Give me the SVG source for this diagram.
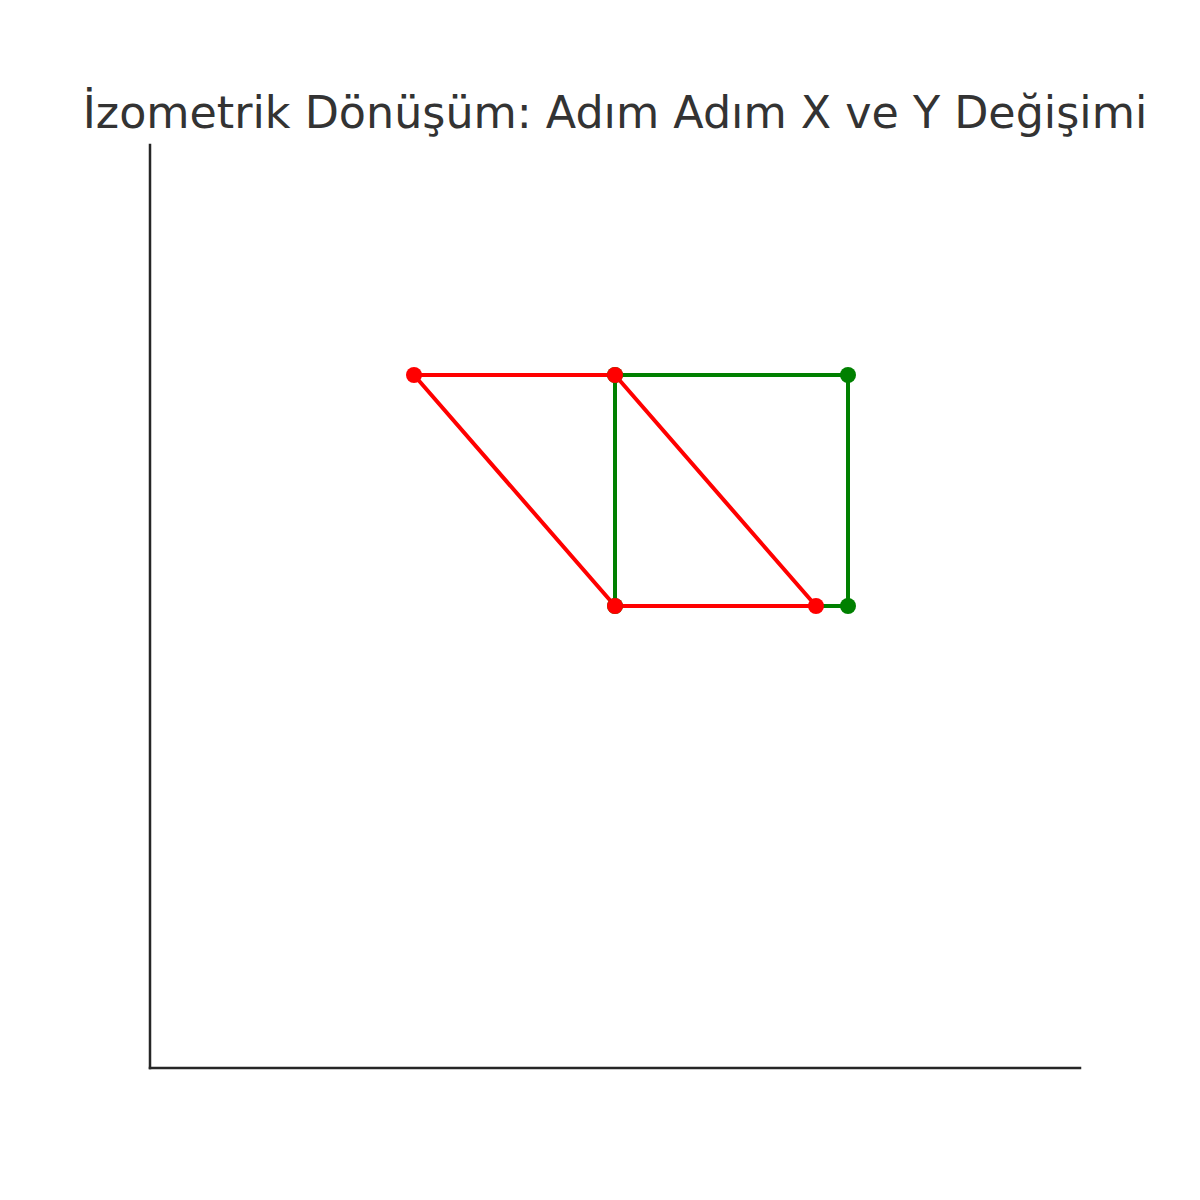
<svg xmlns="http://www.w3.org/2000/svg" width="1200" height="1200" viewBox="0 0 1200 1200">
<style>
.title{font-family:"DejaVu Sans",sans-serif;font-size:44.4px;fill:#333333}
.axis{stroke:#262626;stroke-width:2.5;fill:none;stroke-linecap:square}
.g{stroke:#008000;stroke-width:4;fill:none;stroke-linejoin:round}
.r{stroke:#ff0000;stroke-width:4;fill:none;stroke-linejoin:round}
.gp{fill:#008000}
.rp{fill:#ff0000}
</style>
<rect width="1200" height="1200" fill="#ffffff"/>
<text class="title" x="615" y="128" text-anchor="middle">İzometrik Dönüşüm: Adım Adım X ve Y Değişimi</text>
<g id="axes">
<line class="axis" x1="150" y1="145" x2="150" y2="1068"/>
<line class="axis" x1="150" y1="1068" x2="1080" y2="1068"/>
</g>
<g id="connectors">
<polygon class="g" points="615,375 848,375 848,606 615,606"/>
<polygon class="r" points="414,375 615,375 816,606 615,606"/>
</g>
<g id="original-points">
<circle class="gp" cx="615" cy="375" r="8"/>
<circle class="gp" cx="848" cy="375" r="8"/>
<circle class="gp" cx="848" cy="606" r="8"/>
<circle class="gp" cx="615" cy="606" r="8"/>
</g>
<g id="transformed-points">
<circle class="rp" cx="414" cy="375" r="8"/>
<circle class="rp" cx="615" cy="375" r="8"/>
<circle class="rp" cx="816" cy="606" r="8"/>
<circle class="rp" cx="615" cy="606" r="8"/>
</g>
</svg>
